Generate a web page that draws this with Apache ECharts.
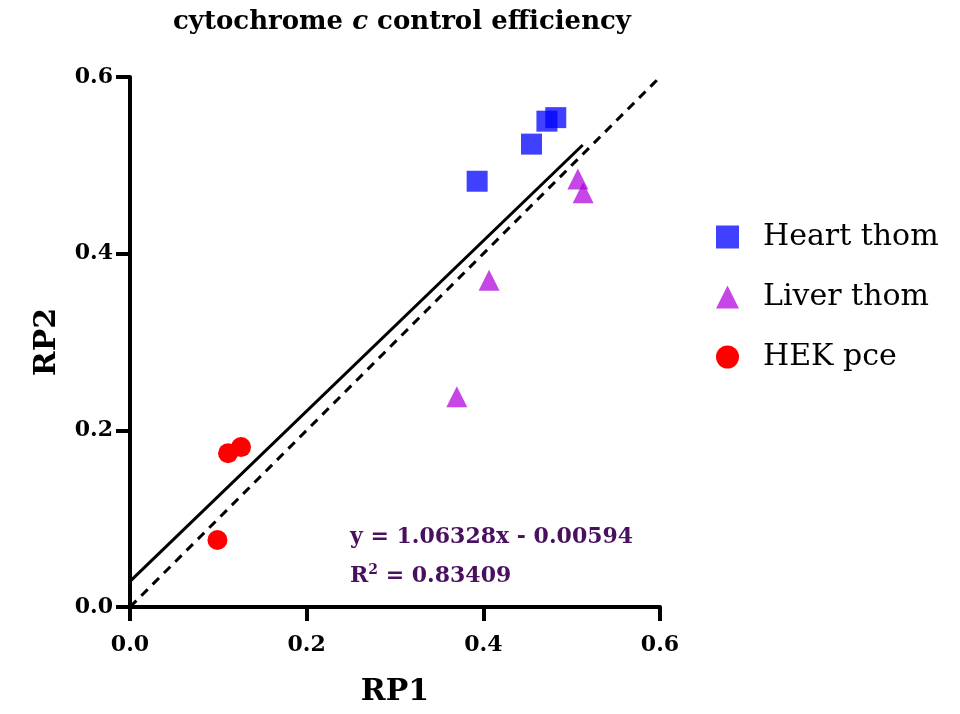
<!DOCTYPE html>
<html><head><meta charset="utf-8">
<script src="https://cdn.jsdelivr.net/npm/echarts@6/dist/echarts.min.js"></script>
<style>html,body{margin:0;padding:0;background:#fff}#c{width:960px;height:714px}</style>
</head><body><div id="c"></div>
<script>
const seriesNames = ['Heart thom', 'Liver thom', 'HEK pce'];
const heartThom = [[0.393, 0.482], [0.4545, 0.524], [0.472, 0.550], [0.482, 0.554]];
const liverThom = [[0.507, 0.4845], [0.513, 0.469], [0.4065, 0.370], [0.370, 0.238]];
const hekPce = [[0.111, 0.174], [0.1257, 0.181], [0.099, 0.0758]];
const fitLine = [[0, 0.029], [0.5125, 0.523]];
const identityLine = [[0, 0], [0.6, 0.6]];
const axisTicks = [0, 0.2, 0.4, 0.6];
const eqText = 'y = 1.06328x - 0.00594';
const r2Value = '0.83409';

const serif = '"DejaVu Serif", "Liberation Serif", serif';
const chart = echarts.init(document.getElementById('c'));
const axisCommon = {
  min: 0, max: 0.6, interval: 0.2,
  axisLine: {show: true, lineStyle: {color: '#000', width: 4}},
  axisTick: {show: true, length: 14, lineStyle: {color: '#000', width: 4}},
  splitLine: {show: false},
  axisLabel: {color: '#000', fontFamily: serif, fontWeight: 'bold', fontSize: 22,
    formatter: v => v.toFixed(1)},
  nameTextStyle: {color: '#000', fontFamily: serif, fontWeight: 'bold', fontSize: 30}
};
chart.setOption({
  animation: false,
  backgroundColor: '#fff',
  title: {
    text: '{b|cytochrome }{i|c}{b| control efficiency}',
    left: 397, top: 4, textAlign: 'center',
    textStyle: {rich: {
      b: {fontFamily: serif, fontWeight: 'bold', fontSize: 26, color: '#000'},
      i: {fontFamily: serif, fontWeight: 'bold', fontStyle: 'italic', fontSize: 26, color: '#000'}
    }}
  },
  grid: {left: 130, right: 300, top: 77, bottom: 107},
  xAxis: Object.assign({}, axisCommon, {type: 'value', name: 'RP1', nameLocation: 'middle', nameGap: 70,
    axisLabel: Object.assign({}, axisCommon.axisLabel, {margin: 27})}),
  yAxis: Object.assign({}, axisCommon, {type: 'value', name: 'RP2', nameLocation: 'middle', nameGap: 68,
    axisLabel: Object.assign({}, axisCommon.axisLabel, {margin: 17})}),
  legend: {
    orient: 'vertical', left: 711, top: 217, itemGap: 30, itemWidth: 23, itemHeight: 23,
    data: seriesNames,
    textStyle: {fontFamily: serif, fontSize: 30, lineHeight: 30, color: '#000', padding: [0, 0, 0, 19]}
  },
  series: [
    {name: seriesNames[0], type: 'scatter', data: heartThom, symbol: 'rect', symbolSize: 21,
     itemStyle: {color: '#0000FF', opacity: 0.75}},
    {name: seriesNames[1], type: 'scatter', data: liverThom, symbol: 'triangle', symbolSize: 21,
     itemStyle: {color: '#B000DC', opacity: 0.72}},
    {name: seriesNames[2], type: 'scatter', data: hekPce, symbol: 'circle', symbolSize: 20,
     itemStyle: {color: '#FF0000', opacity: 1}},
    {type: 'line', data: fitLine, symbol: 'none', silent: true, z: 1,
     lineStyle: {color: '#000', width: 3}},
    {type: 'line', data: identityLine, symbol: 'none', silent: true, z: 1,
     lineStyle: {color: '#000', width: 3, type: [9, 7]}}
  ],
  graphic: [
    {type: 'text', left: 350, top: 526, style: {
      text: eqText, fill: '#4A1060', font: 'bold 22px ' + serif}},
    {type: 'text', left: 350, top: 563, style: {
      text: '{a|R}{s|2}{a| = ' + r2Value + '}',
      rich: {
        a: {fill: '#4A1060', fontFamily: serif, fontWeight: 'bold', fontSize: 22, verticalAlign: 'bottom'},
        s: {fill: '#4A1060', fontFamily: serif, fontWeight: 'bold', fontSize: 14, verticalAlign: 'top', padding: [0, 0, 10, 0]}
      }}}
  ]
});
</script></body></html>
